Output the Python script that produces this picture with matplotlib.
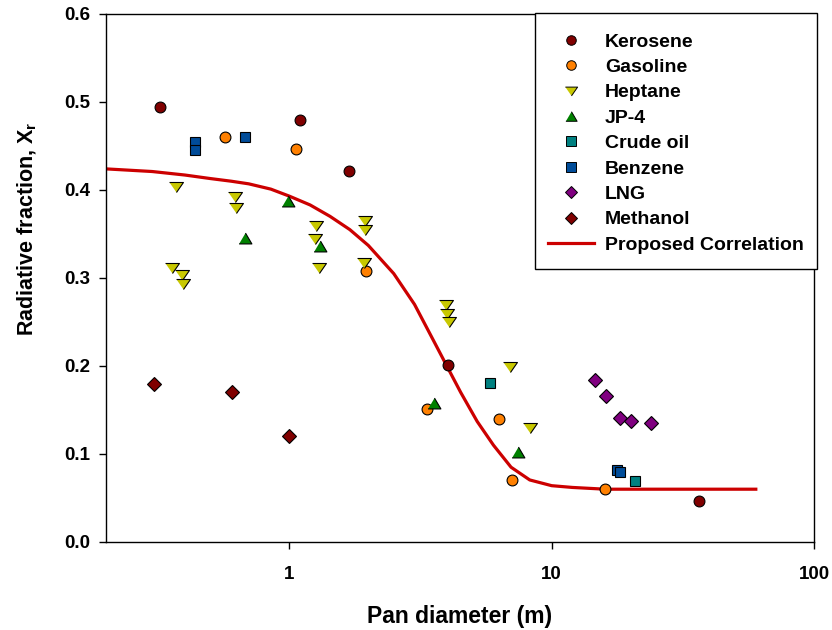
import matplotlib
matplotlib.use("Agg")
import matplotlib.pyplot as plt
from matplotlib.lines import Line2D
from matplotlib.patches import Rectangle

plt.rcParams['font.family'] = ['Liberation Sans', 'DejaVu Sans']
plt.rcParams['font.weight'] = 'bold'
plt.rcParams['mathtext.fontset'] = 'custom'
plt.rcParams['mathtext.rm'] = 'Liberation Sans:bold'
plt.rcParams['mathtext.bf'] = 'Liberation Sans:bold'

# ---- data ----
kerosene_x = [0.321, 1.10, 1.69, 4.01, 36.5]
kerosene_y = [0.494, 0.480, 0.422, 0.201, 0.047]

gasoline_x = [0.566, 1.06, 1.96, 3.36, 6.29, 7.03, 15.95]
gasoline_y = [0.460, 0.447, 0.308, 0.151, 0.140, 0.071, 0.060]

heptane_x = [0.369, 0.358, 0.391, 0.393, 0.622, 0.627, 1.267, 1.256, 1.292,
             1.945, 1.945, 1.93, 3.96, 3.99, 4.07, 6.92, 8.25]
heptane_y = [0.403, 0.311, 0.303, 0.293, 0.392, 0.379, 0.359, 0.344, 0.311,
             0.365, 0.354, 0.317, 0.269, 0.259, 0.250, 0.199, 0.129]

jp4_x = [0.68, 0.99, 1.304, 3.57, 7.45]
jp4_y = [0.346, 0.388, 0.336, 0.158, 0.1026]

crude_x = [5.81, 20.8]
crude_y = [0.181, 0.069]

benzene_x = [0.438, 0.438, 0.68, 17.8, 18.14]
benzene_y = [0.454, 0.445, 0.460, 0.082, 0.080]

lng_x = [14.57, 16.09, 18.19, 20.14, 23.99]
lng_y = [0.184, 0.166, 0.1405, 0.138, 0.135]

methanol_x = [0.304, 0.605, 1.0]
methanol_y = [0.180, 0.170, 0.120]

corr_x = [0.2, 0.3, 0.4, 0.5, 0.6, 0.7, 0.85, 1.0, 1.2, 1.43, 1.7, 2.0, 2.5,
          3.0, 3.5, 4.0, 4.5, 5.2, 6.0, 7.0, 8.25, 10.0, 12.0, 16.0, 25.0,
          40.0, 60.0]
corr_y = [0.424, 0.421, 0.417, 0.413, 0.410, 0.407, 0.401, 0.393, 0.383,
          0.370, 0.355, 0.337, 0.305, 0.270, 0.232, 0.199, 0.170, 0.137,
          0.110, 0.085, 0.0705, 0.064, 0.062, 0.060, 0.060, 0.060, 0.060]

tri_down = [(-1, 0.72), (1, 0.72), (0, -0.72)]
tri_up = [(-1, -0.85), (1, -0.85), (0, 0.85)]

series = [
    ("Kerosene", kerosene_x, kerosene_y, 'o', '#800000', 7.8),
    ("Gasoline", gasoline_x, gasoline_y, 'o', '#FF8000', 7.8),
    ("Heptane", heptane_x, heptane_y, tri_down, '#C8C800', 10.0),
    ("JP-4", jp4_x, jp4_y, tri_up, '#008000', 9.2),
    ("Crude oil", crude_x, crude_y, 's', '#008080', 7.6),
    ("Benzene", benzene_x, benzene_y, 's', '#004C99', 7.6),
    ("LNG", lng_x, lng_y, 'D', '#800080', 7.0),
    ("Methanol", methanol_x, methanol_y, 'D', '#800000', 7.0),
]

fig = plt.figure(figsize=(8.32, 6.30), dpi=100)
ax = fig.add_axes([106/832, 88/630, (814-106)/832, (542-14)/630])

ax.plot(corr_x, corr_y, color='#CC0000', lw=2.3, zorder=2)

handles = []
for name, xs, ys, m, c, ms in series:
    ax.plot(xs, ys, linestyle='none', marker=m, color=c, markersize=ms,
            markeredgecolor='black', markeredgewidth=0.8, zorder=3)
    handles.append(Line2D([], [], linestyle='none', marker=m, markerfacecolor=c,
                          markeredgecolor='black', markeredgewidth=0.7,
                          markersize=ms * 0.88, label=name))
handles.append(Line2D([], [], color='#CC0000', lw=2.3, label='Proposed Correlation'))

ax.set_xscale('log')
ax.set_xlim(0.2, 100)
ax.set_ylim(0.0, 0.6)
ax.set_xticks([1, 10, 100])
ax.set_xticklabels(['1', '10', '100'])
ax.xaxis.set_minor_locator(matplotlib.ticker.NullLocator())
ax.set_yticks([0.0, 0.1, 0.2, 0.3, 0.4, 0.5, 0.6])
ax.set_yticklabels(['0.0', '0.1', '0.2', '0.3', '0.4', '0.5', '0.6'])
ax.tick_params(axis='both', direction='out', length=5, width=1, labelsize=13.5)
ax.tick_params(axis='x', pad=12)
ax.tick_params(axis='y', pad=6.5)
for sp in ax.spines.values():
    sp.set_linewidth(1.0)

ax.set_xlabel('Pan diameter (m)', fontsize=16.5, fontweight='bold')
ax.set_ylabel('Radiative fraction, X$_\\mathrm{r}$', fontsize=15.5,
              fontweight='bold')
ax.xaxis.set_label_coords(0.5, -0.12)
ax.yaxis.set_label_coords(-0.095, 0.593)

# legend frame drawn separately for exact box placement
fig.patches.append(Rectangle((535/832, 1 - 269/630), (817-535)/832,
                             (269-13)/630, transform=fig.transFigure,
                             facecolor='white', edgecolor='black', lw=1.0,
                             zorder=5))
leg = fig.legend(handles=handles, loc='upper left',
                 bbox_to_anchor=(548/832, 1 - 33/630), frameon=False,
                 prop={'size': 14, 'weight': 'bold'}, handlelength=2.37,
                 labelspacing=0.40, borderpad=0, handletextpad=0.57,
                 borderaxespad=0)
leg.set_zorder(6)

fig.savefig('out.png', dpi=100)
